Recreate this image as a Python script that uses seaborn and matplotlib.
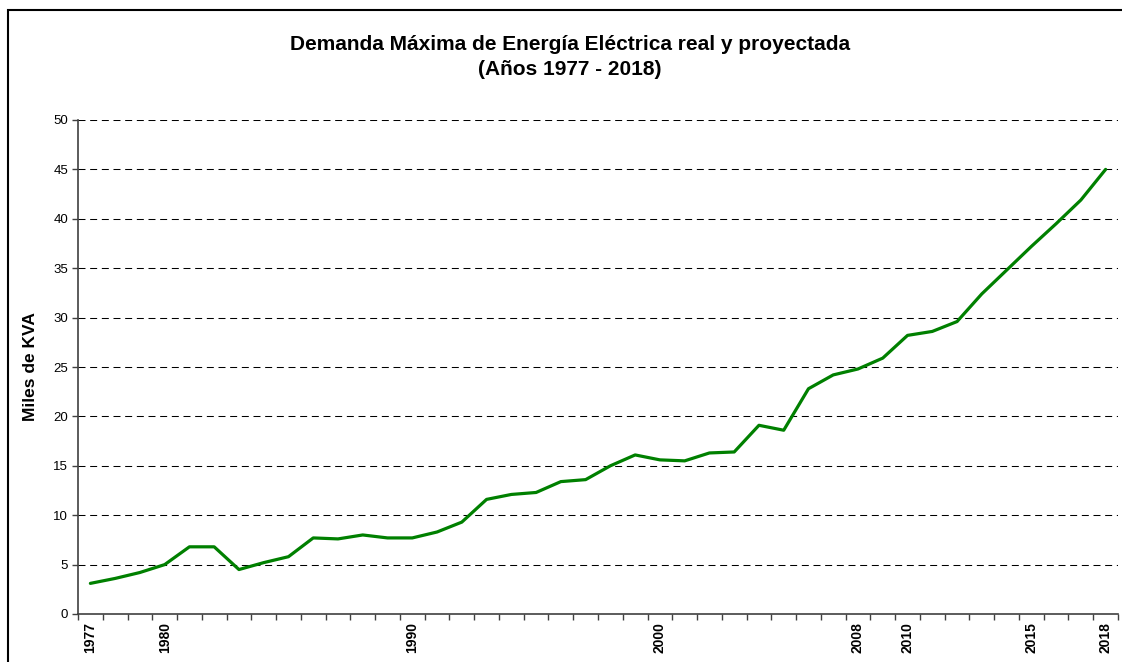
import numpy as np
import pandas as pd
import matplotlib
matplotlib.use('Agg')
import matplotlib.pyplot as plt
import seaborn as sns

years = list(range(1977, 2019))
demanda = [3.1, 3.6, 4.2, 5.0, 6.8, 6.8, 4.5, 5.2, 5.8, 7.7,
           7.6, 8.0, 7.7, 7.7, 8.3, 9.3, 11.6, 12.1, 12.3, 13.4,
           13.6, 15.0, 16.1, 15.6, 15.5, 16.3, 16.4, 19.1, 18.6, 22.8,
           24.2, 24.8, 25.9, 28.2, 28.6, 29.6, 32.4, 34.8, 37.2, 39.5,
           41.9, 45.0]
label_years = [1977, 1980, 1990, 2000, 2008, 2010, 2015, 2018]
y_ticks = list(range(0, 55, 5))

titulo = 'Demanda Máxima de Energía Eléctrica real y proyectada\n(Años 1977 - 2018)'
ylabel = 'Miles de KVA'

sns.set_style('white')
plt.rcParams['font.family'] = ['Liberation Sans', 'DejaVu Sans']
plt.rcParams['text.color'] = 'black'
plt.rcParams['xtick.color'] = 'black'
plt.rcParams['ytick.color'] = 'black'
plt.rcParams['axes.labelcolor'] = 'black'

df = pd.DataFrame({'year': years, 'demanda': demanda})

fig = plt.figure(figsize=(11.22, 6.62), dpi=100)
ax = fig.add_axes([78 / 1122, 1 - 614 / 662, 1040 / 1122, 494 / 662])

# grid discontinuo
for v in y_ticks[1:]:
    ax.axhline(v, color='black', lw=0.75, linestyle=(0, (6.7, 4.5)), zorder=1)

sns.lineplot(data=df, x='year', y='demanda', color='#008000', lw=2.3, ax=ax, zorder=3)

ax.set_xlim(years[0] - 0.5, years[-1] + 0.5)
ax.set_ylim(0, 50)
ax.set_yticks(y_ticks)
ax.set_yticklabels([str(v) for v in y_ticks], fontsize=9.5)

bounds = np.arange(years[0] - 0.5, years[-1] + 1.0, 1.0)
ax.set_xticks(bounds)
ax.set_xticklabels([''] * len(bounds))
ax.set_xticks(label_years, minor=True)
ax.set_xticklabels([str(y) for y in label_years], minor=True, rotation=90,
                   fontsize=10, fontweight='bold')
ax.tick_params(axis='x', which='major', length=4, width=1, color='#404040', direction='out')
ax.tick_params(axis='x', which='minor', length=0, pad=6)
ax.tick_params(axis='y', length=4, width=1, color='#404040', direction='out', pad=3)
ax.tick_params(axis='both', bottom=True, left=True, labelcolor='black')

for s in ['top', 'right']:
    ax.spines[s].set_visible(False)
for s in ['left', 'bottom']:
    ax.spines[s].set_color('#404040')
    ax.spines[s].set_linewidth(1.2)

ax.set_xlabel('')
ax.set_ylabel(ylabel, fontsize=12.5, fontweight='bold')
ax.yaxis.set_label_coords(-0.0385, 0.5)

fig.text(570 / 1122, 1 - 57 / 662, titulo, ha='center', va='center',
         fontsize=15, fontweight='bold', linespacing=1.45, color='black')

# marco exterior
fig.patches.append(plt.Rectangle((8 / 1122, -0.1), 1.2, 1.1 - 10 / 662,
                                 transform=fig.transFigure, fill=False,
                                 edgecolor='black', lw=1.5))

fig.savefig('out.png', dpi=100)
